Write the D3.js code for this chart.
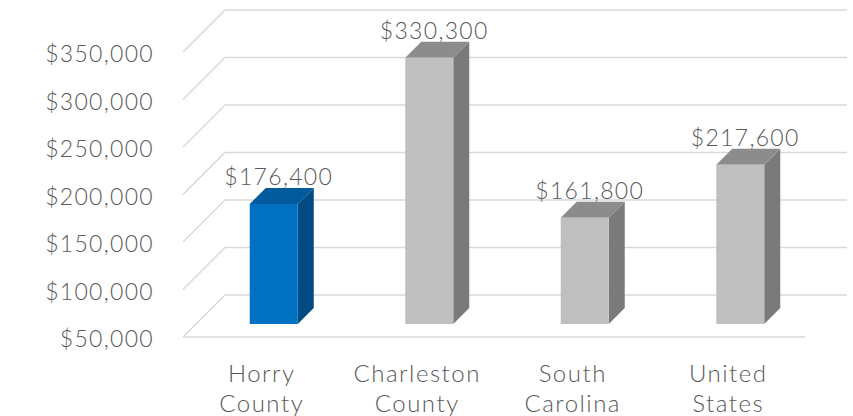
<!DOCTYPE html>
<html>
<head>
<meta charset="utf-8">
<script src="https://cdn.jsdelivr.net/npm/d3@7"></script>
<style>
  body { margin: 0; background: #fff; }
  text { font-family: Lato, "Open Sans", sans-serif; font-weight: 300; fill: #595959; }
</style>
</head>
<body>
<svg id="chart" width="853" height="416"></svg>
<script>
// median home value by area
const categories = ["Horry County", "Charleston County", "South Carolina", "United States"];
const labelLines = [["Horry", "County"], ["Charleston", "County"], ["South", "Carolina"], ["United", "States"]];
const values = [176400, 330300, 161800, 217600];
const highlight = ["Horry County"];
const yTicks = [50000, 100000, 150000, 200000, 250000, 300000, 350000];

const svg = d3.select("#chart");

const depth = 42;        // oblique depth of the walls
const barZ0 = 13, barZ1 = 29;  // bar front/back offset into depth

const x = d3.scaleBand().domain(categories).range([183, 805]);
const y = d3.scaleLinear().domain([50000, 350000]).range([337, 52]);
const barW = 48;

const fmt = d3.format("$,");
const numSize = 23, numSpacing = 1.3;

// gridlines: side wall diagonal + back wall line
const grid = svg.append("g").attr("fill", "none").attr("stroke", "#d9d9d9").attr("stroke-width", 1.5);
yTicks.forEach(t => {
  const yy = y(t);
  grid.append("polyline")
    .attr("points", [[x.range()[0], yy], [x.range()[0] + depth, yy - depth], [x.range()[1] + depth, yy - depth]].join(" "));
});
// floor front edge
grid.append("line")
  .attr("x1", x.range()[0]).attr("y1", y(50000))
  .attr("x2", x.range()[1]).attr("y2", y(50000));

// y axis labels
const yAxis = svg.append("g")
  .attr("transform", `translate(${x.range()[0]},0)`)
  .call(d3.axisLeft(y).tickValues(yTicks).tickFormat(fmt).tickSize(0).tickPadding(29));
yAxis.select(".domain").remove();
yAxis.selectAll("text")
  .style("font-family", "Lato, sans-serif")
  .style("font-weight", 300)
  .attr("font-size", numSize)
  .attr("letter-spacing", numSpacing)
  .attr("dy", "0.42em")
  .attr("fill", "#595959");

// 3d bars
const bars = svg.selectAll(".bar")
  .data(categories.map((c, i) => ({ cat: c, value: values[i] })))
  .enter()
  .append("g")
  .attr("class", "bar");

function colors(d) {
  return highlight.includes(d.cat)
    ? { front: "#0070c0", top: "#005a9c", side: "#004b84" }
    : { front: "#bfbfbf", top: "#8c8c8c", side: "#7a7a7a" };
}

bars.each(function(d) {
  const g = d3.select(this);
  const c = colors(d);
  const cx = x(d.cat) + x.bandwidth() / 2 + barZ0;
  const x0 = cx - barW / 2, x1 = cx + barW / 2;
  const yb = y(50000) - barZ0, yt = y(d.value) - barZ0;
  const dz = barZ1 - barZ0;

  g.append("polygon")
    .attr("points", [[x1, yb], [x1 + dz, yb - dz], [x1 + dz, yt - dz], [x1, yt]].join(" "))
    .attr("fill", c.side);
  g.append("polygon")
    .attr("points", [[x0, yt], [x1, yt], [x1 + dz, yt - dz], [x0 + dz, yt - dz]].join(" "))
    .attr("fill", c.top);
  g.append("rect")
    .attr("x", x0).attr("y", yt)
    .attr("width", barW).attr("height", yb - yt)
    .attr("fill", c.front);

  g.append("text")
    .attr("x", cx + 5)
    .attr("y", yt - dz - 3)
    .attr("text-anchor", "middle")
    .attr("font-size", numSize)
    .attr("letter-spacing", numSpacing)
    .text(fmt(d.value));
});

// category labels
const catLabels = svg.append("g");
categories.forEach((c, i) => {
  const t = catLabels.append("text")
    .attr("text-anchor", "middle")
    .attr("font-size", 24)
    .attr("letter-spacing", 1.5);
  labelLines[i].forEach((line, k) => {
    t.append("tspan")
      .attr("x", x(c) + x.bandwidth() / 2 + 1)
      .attr("y", 382 + k * 30)
      .text(line);
  });
});
</script>
</body>
</html>
